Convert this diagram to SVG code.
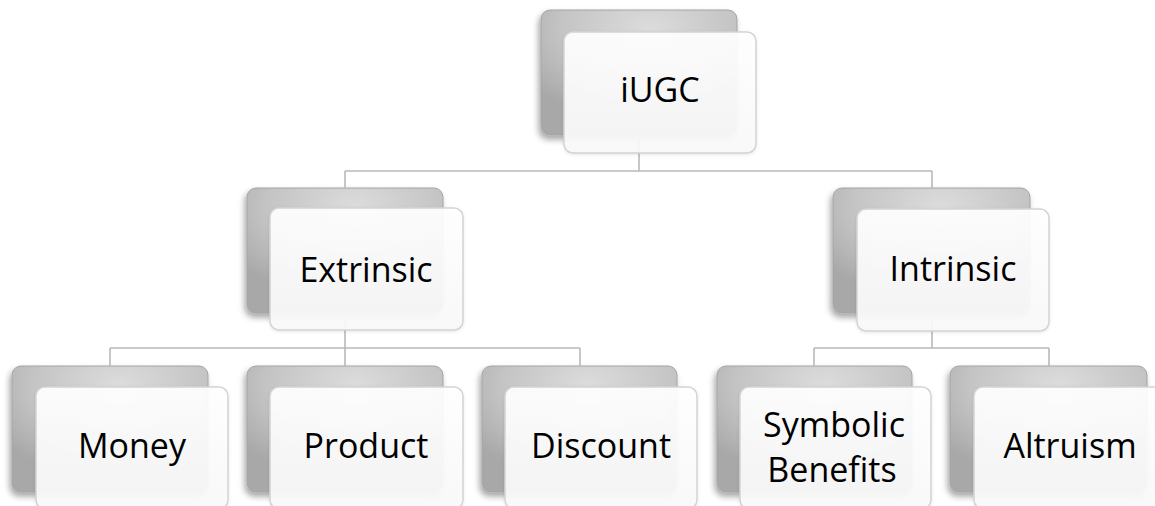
<svg xmlns="http://www.w3.org/2000/svg" width="1155" height="506" viewBox="0 0 1155 506">
  <defs>
    <radialGradient id="backFill" cx="0.55" cy="0.15" r="0.75">
      <stop offset="0" stop-color="#dcdcdc"/>
      <stop offset="0.6" stop-color="#c4c4c4"/>
      <stop offset="1" stop-color="#a8a8a8"/>
    </radialGradient>
    <linearGradient id="frontFill" x1="0" y1="0" x2="0" y2="1">
      <stop offset="0" stop-color="#ffffff"/>
      <stop offset="1" stop-color="#f9f9f9"/>
    </linearGradient>
    <filter id="shadow" x="-20%" y="-20%" width="140%" height="150%">
      <feDropShadow dx="-2" dy="4" stdDeviation="3" flood-color="#000" flood-opacity="0.35"/>
    </filter>
    <filter id="softShadow" x="-10%" y="-10%" width="120%" height="130%">
      <feDropShadow dx="0" dy="1" stdDeviation="1.5" flood-color="#000" flood-opacity="0.1"/>
    </filter>
  </defs>
  <style>
    .back { fill: url(#backFill); stroke: #a4a4a4; stroke-width: 1; filter: url(#shadow); }
    .front { fill: url(#frontFill); fill-opacity: 0.93; stroke: #d4d4d4; stroke-width: 1.5; filter: url(#softShadow); }
    .label { font-family: "Open Sans", "Liberation Sans", sans-serif; font-size: 34px; fill: #000; text-anchor: middle; }
    .conn { fill: none; stroke: #b9b9b9; stroke-width: 1.6; }
  </style>
  <rect width="1155" height="506" fill="#ffffff"/>

  <!-- back cards -->
  <g id="backs">
    <rect class="back" x="541" y="10" width="196" height="125" rx="9"/>
    <rect class="back" x="247" y="188" width="196" height="125" rx="9"/>
    <rect class="back" x="833" y="188" width="197" height="125" rx="9"/>
    <rect class="back" x="12" y="366" width="196" height="126" rx="9"/>
    <rect class="back" x="247" y="366" width="196" height="126" rx="9"/>
    <rect class="back" x="482" y="366" width="195" height="126" rx="9"/>
    <rect class="back" x="717" y="366" width="195" height="126" rx="9"/>
    <rect class="back" x="950" y="366" width="197" height="126" rx="9"/>
  </g>

  <!-- connectors -->
  <g id="connectors">
    <path class="conn" d="M639 135 V171 M345 171 H932 M345 171 V188 M932 171 V188"/>
    <path class="conn" d="M345 313 V348 M110 348 H580 M110 348 V366 M345 348 V366 M580 348 V366"/>
    <path class="conn" d="M932 313 V348 M814 348 H1049 M814 348 V366 M1049 348 V366"/>
  </g>

  <g id="node-iugc">
    <rect class="front" x="564" y="32" width="192" height="121" rx="9"/>
    <text class="label" x="660" y="102">iUGC</text>
  </g>
  <g id="node-extrinsic">
    <rect class="front" x="270" y="208" width="193" height="122" rx="9"/>
    <text class="label" x="366" y="282">Extrinsic</text>
  </g>
  <g id="node-intrinsic">
    <rect class="front" x="857" y="209" width="192" height="122" rx="9"/>
    <text class="label" x="953" y="281">Intrinsic</text>
  </g>
  <g id="node-money">
    <rect class="front" x="36" y="387" width="192" height="122" rx="9"/>
    <text class="label" x="132" y="458">Money</text>
  </g>
  <g id="node-product">
    <rect class="front" x="270" y="387" width="193" height="122" rx="9"/>
    <text class="label" x="366" y="458">Product</text>
  </g>
  <g id="node-discount">
    <rect class="front" x="505" y="387" width="192" height="122" rx="9"/>
    <text class="label" x="601" y="458">Discount</text>
  </g>
  <g id="node-symbolic">
    <rect class="front" x="740" y="387" width="191" height="122" rx="9"/>
    <text class="label" x="834" y="437">Symbolic</text>
    <text class="label" x="832" y="482">Benefits</text>
  </g>
  <g id="node-altruism">
    <rect class="front" x="974" y="387" width="193" height="122" rx="9"/>
    <text class="label" x="1070" y="458">Altruism</text>
  </g>
</svg>
